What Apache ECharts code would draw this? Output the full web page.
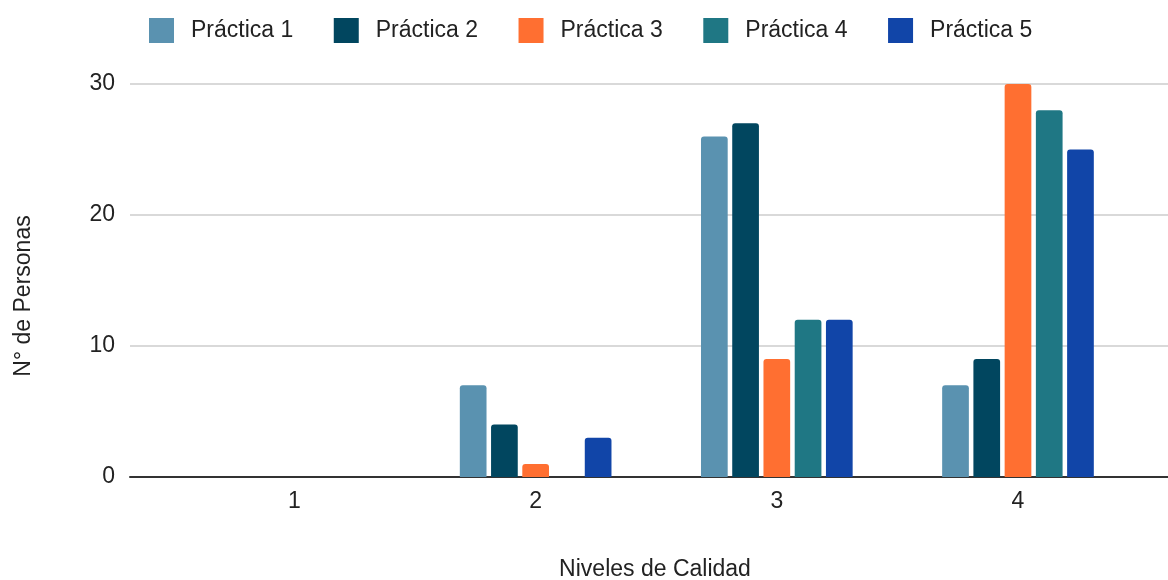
<!DOCTYPE html>
<html>
<head>
<meta charset="utf-8">
<title>Niveles de Calidad</title>
<script src="https://cdn.jsdelivr.net/npm/echarts@6/dist/echarts.min.js"></script>
<style>
  html, body { margin: 0; padding: 0; background: #fff; }
  #chart { width: 1168px; height: 580px; }
</style>
</head>
<body>
<div id="chart"></div>
<script>
// Quality levels on the horizontal axis
const niveles = [1, 2, 3, 4];
const nivelLabels = ['1', '2', '3', '4'];

// Number of people per level, one array per practice
const practica1 = [0, 7, 26, 7];
const practica2 = [0, 4, 27, 9];
const practica3 = [0, 1, 9, 30];
const practica4 = [0, 0, 12, 28];
const practica5 = [0, 3, 12, 25];

const seriesNames = ['Práctica 1', 'Práctica 2', 'Práctica 3', 'Práctica 4', 'Práctica 5'];
const seriesValues = [practica1, practica2, practica3, practica4, practica5];
const seriesColors = ['#5a92b0', '#01465f', '#ff6f31', '#1f7784', '#1145a8'];

const yTicks = [0, 10, 20, 30];

const FONT = "'Liberation Sans', Arial, sans-serif";

const chart = echarts.init(document.getElementById('chart'), null, { renderer: 'canvas' });

chart.setOption({
  backgroundColor: '#ffffff',
  animation: false,
  color: seriesColors,
  textStyle: { fontFamily: FONT },
  legend: {
    data: seriesNames,
    left: 144,
    top: 13,
    itemWidth: 25,
    itemHeight: 25,
    itemGap: 40.5,
    icon: 'rect',
    textStyle: { fontSize: 23, color: '#222', fontFamily: FONT, width: 127, padding: [0, 0, 0, 12] }
  },
  grid: {
    left: 130,
    right: 0,
    top: 84,
    bottom: 103,
    containLabel: false,
    outerBoundsMode: 'none'
  },
  xAxis: {
    type: 'value',
    min: 0.318,
    max: 4.622,
    axisLine: { show: true, onZero: false, lineStyle: { color: '#333', width: 2 } },
    axisTick: { show: false },
    splitLine: { show: false },
    axisLabel: {
      customValues: niveles,
      formatter: v => nivelLabels[niveles.indexOf(v)] ?? '',
      fontSize: 23,
      color: '#222',
      margin: 13,
      fontFamily: FONT
    }
  },
  yAxis: {
    type: 'value',
    min: yTicks[0],
    max: yTicks[yTicks.length - 1],
    interval: 10,
    axisLine: { show: false },
    axisTick: { show: false },
    splitLine: { lineStyle: { color: '#cccccc', width: 1.5 } },
    axisLabel: { fontSize: 23, color: '#222', margin: 15, fontFamily: FONT }
  },
  graphic: [
    {
      type: 'text',
      x: 24,
      y: 296,
      rotation: Math.PI / 2,
      style: {
        text: 'N° de Personas',
        font: "23px 'Liberation Sans', Arial, sans-serif",
        fill: '#222',
        align: 'center',
        verticalAlign: 'middle'
      }
    },
    {
      type: 'text',
      x: 655,
      y: 570,
      style: {
        text: 'Niveles de Calidad',
        font: "23px 'Liberation Sans', Arial, sans-serif",
        fill: '#222',
        align: 'center',
        verticalAlign: 'middle'
      }
    }
  ],
  series: seriesNames.map((name, i) => ({
    name,
    type: 'bar',
    barWidth: 26.7,
    barGap: '17%',
    itemStyle: { color: seriesColors[i], borderRadius: [3, 3, 0, 0] },
    data: niveles.map((n, k) => [n, seriesValues[i][k]])
  }))
});
</script>
</body>
</html>
